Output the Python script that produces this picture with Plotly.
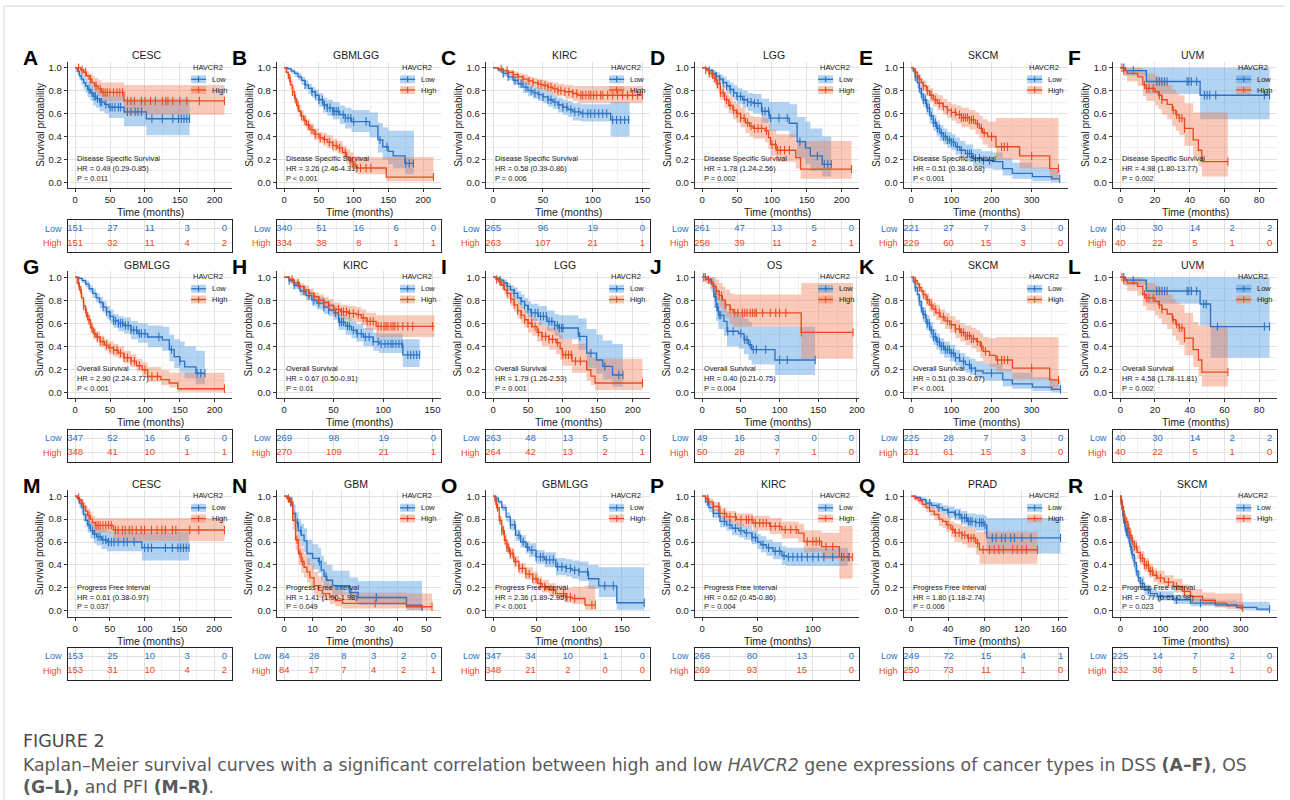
import plotly.graph_objects as go

# ---------------------------------------------------------------- data
PANEL_LETTERS = list("ABCDEFGHIJKLMNOPQR")
CANCER_TYPES = ["CESC", "GBMLGG", "KIRC", "LGG", "SKCM", "UVM",
                "GBMLGG", "KIRC", "LGG", "OS", "SKCM", "UVM",
                "CESC", "GBM", "GBMLGG", "KIRC", "PRAD", "SKCM"]
ENDPOINTS = ["Disease Specific Survival"] * 6 + ["Overall Survival"] * 6 + ["Progress Free Interval"] * 6
HR_TEXT = ["HR = 0.49 (0.29-0.85)", "HR = 3.26 (2.46-4.31)", "HR = 0.58 (0.39-0.86)",
           "HR = 1.78 (1.24-2.56)", "HR = 0.51 (0.38-0.68)", "HR = 4.98 (1.80-13.77)",
           "HR = 2.90 (2.24-3.77)", "HR = 0.67 (0.50-0.91)", "HR = 1.79 (1.26-2.53)",
           "HR = 0.40 (0.21-0.75)", "HR = 0.51 (0.39-0.67)", "HR = 4.58 (1.78-11.81)",
           "HR = 0.61 (0.38-0.97)", "HR = 1.41 (1.00-1.98)", "HR = 2.36 (1.89-2.95)",
           "HR = 0.62 (0.45-0.86)", "HR = 1.80 (1.18-2.74)", "HR = 0.77 (0.61-0.98)"]
PVAL_TEXT = ["P = 0.011", "P < 0.001", "P = 0.006", "P = 0.002", "P < 0.001", "P = 0.002",
             "P < 0.001", "P = 0.01", "P = 0.001", "P = 0.004", "P < 0.001", "P = 0.002",
             "P = 0.037", "P = 0.049", "P < 0.001", "P = 0.004", "P = 0.006", "P = 0.023"]
X_MAX = [214, 215, 150, 214, 372, 86, 214, 151, 214, 193, 372, 86, 215, 52.5, 174, 135, 162, 372]
X_TICKS = [[0, 50, 100, 150, 200], [0, 50, 100, 150, 200], [0, 50, 100, 150], [0, 50, 100, 150, 200],
           [0, 100, 200, 300], [0, 20, 40, 60, 80],
           [0, 50, 100, 150, 200], [0, 50, 100, 150], [0, 50, 100, 150, 200], [0, 50, 100, 150, 200],
           [0, 100, 200, 300], [0, 20, 40, 60, 80],
           [0, 50, 100, 150, 200], [0, 10, 20, 30, 40, 50], [0, 50, 100, 150], [0, 50, 100],
           [0, 40, 80, 120, 160], [0, 100, 200, 300]]
RISK_TIMES = [[0, 53.5, 107, 160.5, 214], [0, 53.75, 107.5, 161.25, 215], [0, 50, 100, 150],
              [0, 53.5, 107, 160.5, 214], [0, 93, 186, 279, 372], [0, 21.5, 43, 64.5, 86],
              [0, 53.5, 107, 160.5, 214], [0, 50.3, 100.7, 151], [0, 53.5, 107, 160.5, 214],
              [0, 48.25, 96.5, 144.75, 193], [0, 93, 186, 279, 372], [0, 21.5, 43, 64.5, 86],
              [0, 53.75, 107.5, 161.25, 215], [0, 10.5, 21, 31.5, 42, 52.5], [0, 43.5, 87, 130.5, 174],
              [0, 45, 90, 135], [0, 40.5, 81, 121.5, 162], [0, 93, 186, 279, 372]]
RISK_LOW = [[151, 27, 11, 3, 0], [340, 51, 16, 6, 0], [265, 96, 19, 0], [261, 47, 13, 5, 0],
            [221, 27, 7, 3, 0], [40, 30, 14, 2, 2],
            [347, 52, 16, 6, 0], [269, 98, 19, 0], [263, 48, 13, 5, 0], [49, 16, 3, 0, 0],
            [225, 28, 7, 3, 0], [40, 30, 14, 2, 2],
            [153, 25, 10, 3, 0], [84, 28, 8, 3, 2, 0], [347, 34, 10, 1, 0], [268, 80, 13, 0],
            [249, 72, 15, 4, 1], [225, 14, 7, 2, 0]]
RISK_HIGH = [[151, 32, 11, 4, 2], [334, 38, 8, 1, 1], [263, 107, 21, 1], [258, 39, 11, 2, 1],
             [229, 60, 15, 3, 0], [40, 22, 5, 1, 0],
             [348, 41, 10, 1, 1], [270, 109, 21, 1], [264, 42, 13, 2, 1], [50, 28, 7, 1, 0],
             [231, 61, 15, 3, 0], [40, 22, 5, 1, 0],
             [153, 31, 10, 4, 2], [84, 17, 7, 4, 2, 1], [348, 21, 2, 0, 0], [269, 93, 15, 0],
             [250, 73, 11, 1, 0], [232, 36, 5, 1, 0]]

# Kaplan-Meier step points: (time, survival, lower CI, upper CI); censor times separately
A_LOW = [(0, 1, 1, 1), (3, 0.97, 0.94, 1.0), (6, 0.93, 0.89, 0.97), (9, 0.90, 0.85, 0.95), (12, 0.87, 0.81, 0.93),
         (15, 0.84, 0.78, 0.90), (18, 0.81, 0.74, 0.88), (22, 0.78, 0.71, 0.86), (26, 0.75, 0.67, 0.83),
         (30, 0.73, 0.65, 0.81), (35, 0.70, 0.62, 0.79), (42, 0.68, 0.60, 0.77), (48, 0.655, 0.56, 0.75),
         (70, 0.615, 0.49, 0.73), (102, 0.555, 0.41, 0.73), (164, 0.555, 0.41, 0.73)]
A_LOW_CENS = [20, 24, 27, 29, 32, 36, 38, 44, 50, 53, 57, 62, 65, 75, 80, 86, 90, 95, 110, 125, 140, 148, 152, 156, 160, 164]
A_HIGH = [(0, 1, 1, 1), (8, 0.98, 0.96, 1.0), (12, 0.96, 0.93, 0.99), (16, 0.93, 0.89, 0.97), (20, 0.90, 0.85, 0.95),
          (24, 0.87, 0.82, 0.93), (28, 0.84, 0.78, 0.91), (33, 0.815, 0.75, 0.89), (38, 0.785, 0.71, 0.87),
          (70, 0.71, 0.59, 0.85), (214, 0.71, 0.59, 0.85)]
A_HIGH_CENS = [5, 10, 15, 22, 30, 36, 40, 43, 46, 50, 55, 60, 64, 68, 75, 80, 85, 95, 100, 108, 115, 125, 130, 133, 140, 150, 160, 178, 214]

B_LOW = [(0, 1, 1, 1), (5, 0.99, 0.98, 1.0), (10, 0.97, 0.95, 0.99), (15, 0.95, 0.92, 0.97), (20, 0.92, 0.89, 0.95),
         (25, 0.89, 0.85, 0.92), (30, 0.85, 0.81, 0.89), (35, 0.82, 0.77, 0.86), (40, 0.79, 0.74, 0.83),
         (45, 0.76, 0.71, 0.81), (50, 0.72, 0.66, 0.78), (56, 0.675, 0.61, 0.74), (62, 0.65, 0.58, 0.72),
         (70, 0.62, 0.55, 0.70), (80, 0.59, 0.51, 0.67), (88, 0.56, 0.47, 0.65), (97, 0.53, 0.44, 0.63),
         (123, 0.49, 0.39, 0.61), (135, 0.37, 0.26, 0.52), (142, 0.31, 0.20, 0.48), (150, 0.27, 0.16, 0.45),
         (157, 0.23, 0.12, 0.45), (174, 0.165, 0.07, 0.45), (187, 0.165, 0.07, 0.45)]
B_LOW_CENS = [30, 40, 45, 50, 55, 58, 62, 66, 70, 72, 75, 78, 85, 88, 92, 96, 100, 118, 138, 148, 175, 180, 186]
B_HIGH = [(0, 1, 1, 1), (3, 0.96, 0.94, 0.98), (6, 0.91, 0.88, 0.94), (9, 0.85, 0.81, 0.89), (12, 0.79, 0.75, 0.84),
          (15, 0.73, 0.68, 0.78), (18, 0.67, 0.62, 0.72), (21, 0.62, 0.57, 0.67), (24, 0.58, 0.53, 0.63),
          (28, 0.54, 0.49, 0.59), (32, 0.50, 0.45, 0.55), (37, 0.46, 0.41, 0.51), (43, 0.42, 0.37, 0.47),
          (50, 0.39, 0.34, 0.44), (56, 0.375, 0.32, 0.43), (62, 0.35, 0.30, 0.41), (70, 0.32, 0.27, 0.38),
          (77, 0.30, 0.25, 0.36), (84, 0.26, 0.21, 0.32), (90, 0.22, 0.16, 0.29), (95, 0.18, 0.12, 0.26),
          (100, 0.15, 0.10, 0.23), (105, 0.125, 0.07, 0.22), (147, 0.045, 0.01, 0.22), (215, 0.045, 0.01, 0.22)]
B_HIGH_CENS = [8, 12, 16, 20, 25, 30, 35, 40, 45, 52, 58, 65, 70, 75, 80, 88, 95, 98, 102, 110, 118, 125, 215]

C_LOW = [(0, 1, 1, 1), (5, 0.98, 0.96, 1.0), (10, 0.95, 0.92, 0.98), (15, 0.92, 0.89, 0.95), (20, 0.89, 0.85, 0.93),
         (25, 0.86, 0.82, 0.90), (30, 0.83, 0.78, 0.88), (35, 0.80, 0.75, 0.85), (40, 0.78, 0.73, 0.83),
         (45, 0.765, 0.71, 0.82), (50, 0.745, 0.69, 0.80), (55, 0.72, 0.66, 0.78), (60, 0.70, 0.64, 0.76),
         (65, 0.675, 0.61, 0.74), (70, 0.655, 0.59, 0.72), (75, 0.635, 0.57, 0.71), (80, 0.615, 0.54, 0.69),
         (88, 0.60, 0.53, 0.68), (118, 0.545, 0.40, 0.70), (137, 0.545, 0.40, 0.70)]
C_LOW_CENS = [10, 15, 22, 28, 33, 38, 42, 46, 50, 55, 58, 62, 66, 70, 74, 78, 82, 86, 90, 95, 98, 102, 106, 110, 114, 120, 124, 128, 132, 136]
C_HIGH = [(0, 1, 1, 1), (5, 0.99, 0.98, 1.0), (10, 0.975, 0.96, 0.99), (15, 0.96, 0.94, 0.98), (20, 0.94, 0.91, 0.97),
          (25, 0.92, 0.89, 0.95), (30, 0.90, 0.86, 0.94), (35, 0.885, 0.85, 0.92), (40, 0.87, 0.83, 0.91),
          (45, 0.855, 0.81, 0.90), (50, 0.845, 0.80, 0.89), (55, 0.83, 0.78, 0.88), (60, 0.815, 0.76, 0.87),
          (65, 0.80, 0.75, 0.86), (72, 0.79, 0.73, 0.85), (80, 0.775, 0.71, 0.84), (85, 0.76, 0.69, 0.84),
          (150, 0.76, 0.68, 0.84)]
C_HIGH_CENS = [8, 14, 20, 25, 30, 36, 40, 45, 48, 52, 55, 58, 62, 65, 68, 72, 76, 80, 84, 88, 90, 93, 96, 98, 101, 104, 108, 110, 115, 120, 125, 130, 135, 140, 145, 150]

D_LOW = [(0, 1, 1, 1), (5, 0.99, 0.98, 1.0), (10, 0.975, 0.95, 0.99), (15, 0.95, 0.92, 0.98), (20, 0.925, 0.89, 0.96),
         (25, 0.90, 0.86, 0.94), (30, 0.87, 0.82, 0.92), (35, 0.84, 0.79, 0.89), (40, 0.81, 0.75, 0.87),
         (45, 0.78, 0.72, 0.85), (50, 0.75, 0.68, 0.82), (58, 0.72, 0.65, 0.80), (65, 0.70, 0.62, 0.78),
         (73, 0.69, 0.60, 0.77), (85, 0.62, 0.52, 0.73), (96, 0.56, 0.45, 0.70), (125, 0.515, 0.39, 0.68),
         (136, 0.355, 0.21, 0.57), (148, 0.30, 0.16, 0.53), (155, 0.23, 0.10, 0.47), (172, 0.157, 0.05, 0.40),
         (185, 0.157, 0.05, 0.40)]
D_LOW_CENS = [10, 15, 20, 25, 30, 35, 40, 45, 50, 55, 60, 65, 70, 75, 80, 86, 90, 95, 98, 110, 122, 140, 165, 175, 180, 185]
D_HIGH = [(0, 1, 1, 1), (5, 0.98, 0.96, 1.0), (10, 0.95, 0.92, 0.98), (15, 0.91, 0.87, 0.95), (20, 0.86, 0.81, 0.91),
          (26, 0.78, 0.72, 0.84), (32, 0.72, 0.65, 0.79), (38, 0.67, 0.60, 0.75), (44, 0.63, 0.55, 0.71),
          (49, 0.60, 0.52, 0.68), (55, 0.56, 0.48, 0.65), (62, 0.52, 0.43, 0.61), (68, 0.49, 0.40, 0.58),
          (73, 0.47, 0.38, 0.57), (90, 0.45, 0.35, 0.56), (95, 0.39, 0.29, 0.51), (98, 0.33, 0.23, 0.46),
          (106, 0.28, 0.18, 0.42), (134, 0.215, 0.12, 0.37), (141, 0.115, 0.03, 0.36), (214, 0.115, 0.03, 0.36)]
D_HIGH_CENS = [5, 10, 14, 18, 22, 26, 30, 35, 40, 45, 50, 55, 60, 65, 70, 75, 80, 85, 92, 100, 105, 108, 112, 118, 125, 214]

E_LOW = [(0, 1, 1, 1), (5, 0.97, 0.95, 0.99), (10, 0.92, 0.88, 0.96), (15, 0.87, 0.82, 0.92), (20, 0.82, 0.77, 0.88),
         (25, 0.77, 0.71, 0.83), (30, 0.72, 0.66, 0.78), (38, 0.65, 0.59, 0.72), (46, 0.58, 0.51, 0.65),
         (55, 0.52, 0.45, 0.59), (63, 0.47, 0.40, 0.54), (71, 0.43, 0.36, 0.50), (80, 0.40, 0.33, 0.47),
         (90, 0.37, 0.30, 0.44), (100, 0.35, 0.28, 0.42), (110, 0.31, 0.24, 0.39), (121, 0.28, 0.21, 0.36),
         (135, 0.25, 0.18, 0.33), (154, 0.21, 0.14, 0.29), (175, 0.19, 0.12, 0.27), (203, 0.18, 0.11, 0.26),
         (228, 0.12, 0.06, 0.21), (252, 0.078, 0.03, 0.17), (302, 0.05, 0.01, 0.13), (350, 0.03, 0.0, 0.11),
         (370, 0.03, 0.0, 0.11)]
E_LOW_CENS = [10, 20, 25, 30, 35, 40, 45, 50, 55, 60, 65, 70, 75, 80, 85, 90, 95, 100, 105, 115, 125, 140, 145, 150, 160, 170, 180, 195, 370]
E_HIGH = [(0, 1, 1, 1), (5, 0.99, 0.98, 1.0), (10, 0.96, 0.94, 0.98), (15, 0.93, 0.90, 0.96), (20, 0.90, 0.86, 0.94),
          (25, 0.87, 0.83, 0.91), (30, 0.84, 0.79, 0.89), (38, 0.80, 0.75, 0.85), (46, 0.76, 0.70, 0.82),
          (55, 0.72, 0.66, 0.78), (65, 0.69, 0.63, 0.76), (79, 0.66, 0.59, 0.73), (90, 0.63, 0.56, 0.70),
          (100, 0.61, 0.54, 0.68), (112, 0.59, 0.51, 0.67), (125, 0.565, 0.48, 0.65), (145, 0.545, 0.46, 0.63),
          (160, 0.51, 0.42, 0.61), (170, 0.47, 0.38, 0.58), (178, 0.43, 0.33, 0.55), (190, 0.40, 0.30, 0.53),
          (211, 0.31, 0.20, 0.56), (270, 0.23, 0.12, 0.56), (345, 0.12, 0.03, 0.56), (367, 0.12, 0.03, 0.56)]
E_HIGH_CENS = [10, 20, 30, 40, 50, 60, 70, 80, 90, 100, 110, 120, 125, 130, 135, 140, 145, 150, 155, 165, 175, 182, 200, 225, 232, 240, 300, 367]

F_LOW = [(0, 1, 1, 1), (3, 0.975, 0.93, 1.0), (15, 0.88, 0.77, 1.0), (46, 0.76, 0.55, 1.0), (86, 0.76, 0.55, 1.0)]
F_LOW_CENS = [2, 7.5, 21, 22.5, 24, 25.5, 27, 38.5, 39.5, 41, 44, 48.5, 50, 51.5, 55, 83, 86]
F_HIGH = [(0, 1, 1, 1), (2, 0.975, 0.93, 1.0), (4, 0.95, 0.88, 1.0), (10, 0.92, 0.84, 1.0), (13, 0.85, 0.75, 0.97),
          (15, 0.82, 0.71, 0.95), (20, 0.79, 0.67, 0.93), (22, 0.76, 0.64, 0.91), (24, 0.72, 0.59, 0.88),
          (27, 0.68, 0.55, 0.85), (30, 0.63, 0.49, 0.81), (32, 0.59, 0.45, 0.78), (34, 0.56, 0.41, 0.76),
          (37, 0.47, 0.32, 0.69), (42, 0.37, 0.22, 0.61), (45, 0.28, 0.14, 0.61), (47, 0.18, 0.05, 0.61),
          (62, 0.18, 0.05, 0.61)]
F_HIGH_CENS = [1, 2, 14, 15, 16.5, 19, 22.5, 24, 30.5, 32.5, 34, 35.5, 37, 62]

G_LOW = [(0, 1, 1, 1), (5, 0.99, 0.98, 1.0), (10, 0.97, 0.95, 0.99), (15, 0.94, 0.91, 0.97), (20, 0.90, 0.87, 0.93),
         (25, 0.86, 0.82, 0.90), (30, 0.82, 0.78, 0.86), (35, 0.78, 0.73, 0.83), (40, 0.74, 0.69, 0.79),
         (45, 0.70, 0.64, 0.75), (50, 0.66, 0.60, 0.72), (55, 0.62, 0.56, 0.68), (62, 0.60, 0.53, 0.66),
         (70, 0.58, 0.51, 0.65), (80, 0.54, 0.46, 0.62), (90, 0.51, 0.43, 0.60), (104, 0.48, 0.39, 0.58),
         (125, 0.455, 0.36, 0.57), (135, 0.37, 0.27, 0.50), (142, 0.31, 0.21, 0.46), (150, 0.27, 0.17, 0.44),
         (157, 0.22, 0.12, 0.40), (173, 0.165, 0.07, 0.36), (186, 0.165, 0.07, 0.36)]
G_LOW_CENS = [40, 45, 50, 55, 58, 62, 65, 68, 72, 76, 80, 84, 88, 92, 95, 100, 120, 138, 150, 175, 180, 186]
G_HIGH = [(0, 1, 1, 1), (3, 0.95, 0.93, 0.97), (6, 0.89, 0.86, 0.92), (9, 0.82, 0.78, 0.86), (12, 0.75, 0.71, 0.80),
          (15, 0.69, 0.64, 0.74), (18, 0.63, 0.58, 0.68), (22, 0.56, 0.51, 0.61), (26, 0.51, 0.46, 0.56),
          (30, 0.48, 0.43, 0.53), (36, 0.44, 0.39, 0.49), (42, 0.41, 0.36, 0.46), (48, 0.385, 0.33, 0.44),
          (55, 0.365, 0.31, 0.42), (62, 0.34, 0.29, 0.40), (70, 0.30, 0.25, 0.36), (80, 0.27, 0.22, 0.33),
          (88, 0.23, 0.18, 0.29), (96, 0.195, 0.14, 0.26), (104, 0.137, 0.09, 0.22), (123, 0.11, 0.06, 0.19),
          (135, 0.08, 0.04, 0.17), (147, 0.03, 0.005, 0.17), (214, 0.03, 0.005, 0.17)]
G_HIGH_CENS = [5, 8, 12, 16, 20, 24, 28, 32, 36, 40, 45, 50, 55, 60, 65, 70, 75, 80, 85, 92, 100, 110, 118, 214]

H_LOW = [(0, 1, 1, 1), (5, 0.97, 0.95, 0.99), (10, 0.93, 0.90, 0.96), (16, 0.88, 0.84, 0.92), (22, 0.84, 0.80, 0.88),
         (28, 0.80, 0.75, 0.85), (33, 0.775, 0.72, 0.83), (40, 0.74, 0.68, 0.80), (45, 0.715, 0.66, 0.77),
         (50, 0.69, 0.63, 0.75), (55, 0.61, 0.54, 0.68), (62, 0.575, 0.50, 0.65), (68, 0.54, 0.47, 0.62),
         (73, 0.51, 0.44, 0.59), (80, 0.48, 0.40, 0.56), (90, 0.44, 0.36, 0.52), (96, 0.42, 0.34, 0.51),
         (120, 0.325, 0.22, 0.46), (137, 0.325, 0.22, 0.46)]
H_LOW_CENS = [5, 10, 15, 20, 25, 30, 35, 40, 45, 52, 56, 58, 60, 64, 66, 70, 74, 78, 82, 86, 90, 95, 98, 102, 105, 108, 110, 113, 116, 119, 125, 128, 131, 134, 137]
H_HIGH = [(0, 1, 1, 1), (5, 0.98, 0.96, 1.0), (10, 0.95, 0.92, 0.98), (15, 0.92, 0.89, 0.95), (20, 0.89, 0.85, 0.93),
          (25, 0.86, 0.82, 0.90), (30, 0.83, 0.79, 0.87), (35, 0.80, 0.76, 0.85), (40, 0.78, 0.73, 0.83),
          (45, 0.755, 0.70, 0.81), (50, 0.72, 0.66, 0.78), (57, 0.70, 0.64, 0.76), (65, 0.685, 0.62, 0.75),
          (73, 0.675, 0.61, 0.74), (78, 0.645, 0.58, 0.72), (83, 0.616, 0.54, 0.69), (93, 0.573, 0.48, 0.67),
          (152, 0.573, 0.48, 0.67)]
H_HIGH_CENS = [8, 14, 20, 25, 30, 35, 40, 45, 50, 55, 58, 60, 63, 66, 70, 75, 80, 84, 87, 90, 95, 98, 101, 103, 105, 108, 110, 112, 115, 120, 125, 130, 150]

I_LOW = [(0, 1, 1, 1), (5, 0.99, 0.98, 1.0), (10, 0.975, 0.95, 0.99), (15, 0.95, 0.92, 0.98), (20, 0.92, 0.88, 0.95),
         (25, 0.89, 0.85, 0.93), (30, 0.86, 0.81, 0.91), (35, 0.82, 0.77, 0.88), (40, 0.79, 0.73, 0.85),
         (45, 0.755, 0.69, 0.82), (50, 0.72, 0.65, 0.79), (54, 0.69, 0.62, 0.77), (65, 0.66, 0.58, 0.75),
         (77, 0.615, 0.53, 0.71), (88, 0.58, 0.49, 0.68), (94, 0.558, 0.46, 0.67), (122, 0.485, 0.37, 0.64),
         (134, 0.34, 0.21, 0.55), (148, 0.28, 0.16, 0.50), (157, 0.224, 0.11, 0.45), (171, 0.15, 0.05, 0.42),
         (186, 0.15, 0.05, 0.42)]
I_LOW_CENS = [10, 20, 30, 40, 45, 50, 55, 60, 64, 68, 72, 76, 80, 84, 88, 92, 95, 98, 100, 124, 140, 160, 180, 186]
I_HIGH = [(0, 1, 1, 1), (4, 0.98, 0.96, 1.0), (8, 0.96, 0.93, 0.99), (12, 0.93, 0.89, 0.97), (16, 0.89, 0.85, 0.94),
          (20, 0.86, 0.81, 0.91), (25, 0.81, 0.75, 0.87), (30, 0.76, 0.70, 0.82), (35, 0.71, 0.64, 0.78),
          (40, 0.67, 0.60, 0.74), (45, 0.63, 0.56, 0.71), (50, 0.60, 0.52, 0.68), (56, 0.57, 0.49, 0.65),
          (63, 0.52, 0.44, 0.61), (70, 0.485, 0.40, 0.58), (80, 0.46, 0.37, 0.56), (90, 0.43, 0.33, 0.54),
          (96, 0.38, 0.28, 0.50), (99, 0.326, 0.23, 0.46), (113, 0.27, 0.17, 0.42), (134, 0.195, 0.10, 0.36),
          (140, 0.14, 0.06, 0.30), (146, 0.08, 0.02, 0.29), (214, 0.08, 0.02, 0.29)]
I_HIGH_CENS = [5, 10, 15, 20, 25, 30, 35, 40, 45, 50, 55, 60, 65, 70, 75, 80, 85, 92, 100, 104, 108, 112, 118, 125, 214]

J_LOW = [(0, 1, 1, 1), (8, 0.98, 0.94, 1.0), (12, 0.94, 0.87, 1.0), (15, 0.83, 0.73, 0.95), (18, 0.74, 0.62, 0.88),
         (21, 0.67, 0.55, 0.82), (28, 0.616, 0.49, 0.78), (32, 0.53, 0.40, 0.70), (47, 0.51, 0.38, 0.68),
         (54, 0.456, 0.33, 0.64), (60, 0.413, 0.28, 0.61), (64, 0.37, 0.24, 0.57), (94, 0.28, 0.15, 0.57),
         (146, 0.28, 0.15, 0.57)]
J_LOW_CENS = [2, 17, 19, 20, 22, 24, 33, 40, 50, 55, 58, 62, 66, 70, 82, 100, 110, 146]
J_HIGH = [(0, 1, 1, 1), (5, 0.98, 0.94, 1.0), (10, 0.96, 0.90, 1.0), (14, 0.92, 0.84, 1.0), (18, 0.88, 0.79, 0.98),
          (22, 0.84, 0.74, 0.95), (26, 0.80, 0.69, 0.92), (30, 0.76, 0.65, 0.89), (36, 0.72, 0.60, 0.86),
          (40, 0.69, 0.57, 0.85), (128, 0.52, 0.29, 0.95), (195, 0.52, 0.29, 0.95)]
J_HIGH_CENS = [4, 8, 18, 22, 25, 30, 36, 42, 46, 52, 55, 58, 62, 65, 68, 70, 78, 88, 95, 100, 108, 128, 195]

K_LOW = [(0, 1, 1, 1), (5, 0.96, 0.94, 0.98), (10, 0.91, 0.88, 0.94), (15, 0.85, 0.81, 0.89), (20, 0.79, 0.74, 0.84),
         (25, 0.73, 0.68, 0.79), (29, 0.675, 0.61, 0.74), (37, 0.60, 0.54, 0.67), (46, 0.54, 0.47, 0.61),
         (55, 0.48, 0.41, 0.55), (63, 0.44, 0.37, 0.51), (71, 0.40, 0.33, 0.47), (82, 0.37, 0.30, 0.44),
         (96, 0.34, 0.27, 0.41), (110, 0.30, 0.23, 0.37), (121, 0.27, 0.20, 0.34), (135, 0.24, 0.17, 0.31),
         (146, 0.21, 0.15, 0.29), (160, 0.185, 0.12, 0.27), (179, 0.166, 0.10, 0.25), (228, 0.107, 0.05, 0.20),
         (252, 0.073, 0.03, 0.17), (302, 0.044, 0.01, 0.13), (350, 0.025, 0.0, 0.11), (372, 0.025, 0.0, 0.11)]
K_LOW_CENS = [10, 20, 25, 30, 35, 40, 45, 50, 55, 60, 65, 70, 75, 80, 85, 90, 95, 100, 105, 110, 120, 130, 145, 150, 160, 200, 372]
K_HIGH = [(0, 1, 1, 1), (5, 0.99, 0.98, 1.0), (10, 0.97, 0.95, 0.99), (15, 0.94, 0.91, 0.97), (20, 0.91, 0.87, 0.95),
          (25, 0.88, 0.84, 0.92), (30, 0.85, 0.80, 0.89), (37, 0.805, 0.75, 0.86), (45, 0.76, 0.70, 0.82),
          (54, 0.72, 0.66, 0.78), (62, 0.69, 0.63, 0.76), (72, 0.655, 0.59, 0.72), (84, 0.62, 0.55, 0.69),
          (96, 0.587, 0.52, 0.66), (110, 0.55, 0.47, 0.63), (122, 0.52, 0.44, 0.60), (135, 0.49, 0.41, 0.58),
          (150, 0.465, 0.38, 0.56), (162, 0.44, 0.35, 0.54), (172, 0.40, 0.30, 0.51), (179, 0.355, 0.25, 0.48),
          (195, 0.32, 0.22, 0.47), (211, 0.28, 0.18, 0.48), (252, 0.21, 0.11, 0.48), (345, 0.107, 0.02, 0.48),
          (367, 0.107, 0.02, 0.48)]
K_HIGH_CENS = [10, 20, 30, 40, 50, 60, 70, 80, 90, 100, 110, 120, 125, 130, 135, 140, 145, 150, 155, 165, 175, 185, 215, 225, 232, 240, 300, 367]

L_LOW = [(0, 1, 1, 1), (3, 0.975, 0.93, 1.0), (15, 0.88, 0.77, 1.0), (46, 0.767, 0.58, 1.0), (52, 0.57, 0.30, 1.0),
         (86, 0.57, 0.30, 1.0)]
L_LOW_CENS = [2, 7.5, 21, 22.5, 24, 25.5, 27, 38.5, 39.5, 41, 44, 48, 49.5, 56, 83, 86]
L_HIGH = [(0, 1, 1, 1), (2, 0.975, 0.93, 1.0), (4, 0.95, 0.88, 1.0), (10, 0.92, 0.84, 1.0), (13, 0.85, 0.75, 0.97),
          (15, 0.82, 0.71, 0.95), (20, 0.79, 0.67, 0.93), (22, 0.76, 0.64, 0.91), (24, 0.72, 0.59, 0.88),
          (27, 0.68, 0.55, 0.85), (30, 0.63, 0.49, 0.81), (32, 0.59, 0.45, 0.78), (34, 0.56, 0.41, 0.76),
          (37, 0.47, 0.32, 0.69), (42, 0.37, 0.22, 0.61), (45, 0.28, 0.14, 0.58), (47, 0.175, 0.05, 0.58),
          (62, 0.175, 0.05, 0.58)]
L_HIGH_CENS = [1, 2, 14, 15, 16.5, 19, 22.5, 24, 30.5, 32.5, 34, 35.5, 37, 62]

M_LOW = [(0, 1, 1, 1), (3, 0.98, 0.96, 1.0), (6, 0.94, 0.91, 0.97), (9, 0.90, 0.85, 0.94), (12, 0.84, 0.78, 0.89),
         (15, 0.79, 0.73, 0.85), (18, 0.75, 0.68, 0.82), (22, 0.70, 0.63, 0.78), (27, 0.67, 0.59, 0.75),
         (31, 0.645, 0.57, 0.73), (38, 0.62, 0.54, 0.71), (46, 0.60, 0.52, 0.69), (96, 0.55, 0.44, 0.69),
         (164, 0.55, 0.44, 0.69)]
M_LOW_CENS = [20, 25, 28, 33, 36, 40, 44, 48, 52, 56, 62, 70, 75, 85, 100, 105, 110, 130, 140, 148, 152, 156, 160, 164]
M_HIGH = [(0, 1, 1, 1), (3, 0.99, 0.98, 1.0), (6, 0.97, 0.95, 0.99), (9, 0.94, 0.91, 0.97), (12, 0.91, 0.87, 0.95),
          (15, 0.87, 0.82, 0.92), (18, 0.83, 0.78, 0.89), (22, 0.80, 0.74, 0.86), (25, 0.77, 0.71, 0.83),
          (29, 0.745, 0.68, 0.81), (55, 0.705, 0.61, 0.81), (215, 0.705, 0.61, 0.81)]
M_HIGH_CENS = [5, 10, 20, 30, 33, 36, 40, 44, 48, 52, 58, 62, 68, 72, 78, 82, 88, 95, 100, 110, 118, 125, 130, 140, 145, 165, 178, 215]

N_LOW = [(0, 1, 1, 1), (1, 0.99, 0.97, 1.0), (2, 0.95, 0.91, 0.99), (3, 0.85, 0.78, 0.93), (4, 0.77, 0.69, 0.86),
         (5, 0.70, 0.61, 0.80), (6, 0.66, 0.56, 0.76), (7, 0.61, 0.51, 0.72), (8, 0.50, 0.40, 0.62),
         (10, 0.457, 0.36, 0.58), (12, 0.43, 0.33, 0.55), (13, 0.355, 0.26, 0.48), (14, 0.30, 0.21, 0.43),
         (15, 0.267, 0.18, 0.40), (17, 0.22, 0.14, 0.35), (23, 0.16, 0.09, 0.29), (26, 0.116, 0.05, 0.26),
         (43, 0.05, 0.01, 0.26), (48.5, 0.0, 0.0, 0.26)]
N_LOW_CENS = [2.3, 4.7, 5.9, 12.4, 14.7, 23.5, 32.4]
N_HIGH = [(0, 1, 1, 1), (1, 0.98, 0.95, 1.0), (2, 0.95, 0.91, 0.99), (3, 0.79, 0.71, 0.88), (4, 0.62, 0.53, 0.73),
          (5, 0.50, 0.40, 0.62), (6, 0.43, 0.33, 0.55), (7, 0.38, 0.29, 0.50), (8, 0.34, 0.25, 0.46),
          (9, 0.29, 0.20, 0.41), (10.5, 0.22, 0.14, 0.34), (12, 0.18, 0.11, 0.30), (13.5, 0.15, 0.09, 0.26),
          (16, 0.12, 0.06, 0.23), (18, 0.09, 0.04, 0.19), (20.5, 0.065, 0.02, 0.16), (43, 0.035, 0.005, 0.15),
          (52, 0.035, 0.005, 0.15)]
N_HIGH_CENS = [1.5, 2.5, 4.5, 5.5, 6.5, 32, 52]

O_LOW = [(0, 1, 1, 1), (3, 0.98, 0.96, 1.0), (6, 0.95, 0.93, 0.97), (10, 0.90, 0.87, 0.93), (15, 0.82, 0.78, 0.86),
         (20, 0.75, 0.70, 0.80), (26, 0.66, 0.61, 0.71), (32, 0.60, 0.55, 0.66), (38, 0.555, 0.50, 0.61),
         (42, 0.53, 0.47, 0.59), (50, 0.47, 0.41, 0.53), (60, 0.445, 0.38, 0.51), (73, 0.384, 0.31, 0.46),
         (85, 0.37, 0.30, 0.45), (92, 0.355, 0.28, 0.44), (100, 0.34, 0.26, 0.43), (111, 0.28, 0.19, 0.40),
         (123, 0.218, 0.12, 0.38), (144, 0.07, 0.01, 0.38), (176, 0.07, 0.01, 0.38)]
O_LOW_CENS = [20, 25, 30, 35, 40, 45, 50, 55, 58, 62, 66, 70, 75, 80, 85, 90, 95, 100, 110, 130, 140, 176]
O_HIGH = [(0, 1, 1, 1), (2, 0.96, 0.94, 0.98), (4, 0.90, 0.87, 0.93), (7, 0.79, 0.75, 0.83), (10, 0.70, 0.65, 0.75),
          (13, 0.616, 0.57, 0.67), (16, 0.55, 0.50, 0.60), (19, 0.50, 0.45, 0.55), (24, 0.43, 0.38, 0.48),
          (30, 0.37, 0.32, 0.42), (38, 0.32, 0.27, 0.38), (46, 0.28, 0.23, 0.34), (52, 0.24, 0.19, 0.30),
          (57, 0.21, 0.16, 0.27), (65, 0.18, 0.13, 0.24), (73, 0.15, 0.10, 0.22), (85, 0.12, 0.07, 0.20),
          (92, 0.107, 0.06, 0.21), (107, 0.05, 0.01, 0.22), (119, 0.05, 0.01, 0.22)]
O_HIGH_CENS = [3, 5, 8, 10, 12, 14, 16, 18, 20, 23, 26, 30, 34, 38, 42, 46, 50, 55, 60, 70, 82, 86, 90, 95, 115, 119]

P_LOW = [(0, 1, 1, 1), (3, 0.95, 0.92, 0.98), (6, 0.90, 0.86, 0.94), (10, 0.85, 0.81, 0.89), (16, 0.78, 0.73, 0.83),
         (22, 0.75, 0.70, 0.80), (27, 0.72, 0.66, 0.78), (33, 0.70, 0.64, 0.76), (38, 0.68, 0.62, 0.74),
         (45, 0.64, 0.58, 0.70), (50, 0.60, 0.54, 0.67), (53, 0.576, 0.51, 0.65), (58, 0.55, 0.48, 0.62),
         (64, 0.52, 0.45, 0.60), (72, 0.48, 0.40, 0.56), (76, 0.47, 0.39, 0.55), (132, 0.47, 0.39, 0.55)]
P_LOW_CENS = [5, 10, 15, 20, 25, 30, 35, 40, 45, 48, 55, 60, 66, 70, 74, 78, 82, 86, 90, 95, 100, 105, 110, 118, 126, 132]
P_HIGH = [(0, 1, 1, 1), (3, 0.98, 0.96, 1.0), (6, 0.95, 0.92, 0.98), (10, 0.91, 0.87, 0.95), (16, 0.85, 0.80, 0.90),
          (22, 0.82, 0.77, 0.87), (31, 0.795, 0.74, 0.85), (46, 0.766, 0.70, 0.83), (61, 0.737, 0.67, 0.81),
          (72, 0.708, 0.63, 0.78), (87, 0.678, 0.60, 0.76), (92, 0.605, 0.51, 0.70), (108, 0.56, 0.45, 0.68),
          (124, 0.468, 0.28, 0.74), (136, 0.468, 0.28, 0.74)]
P_HIGH_CENS = [5, 10, 15, 20, 25, 30, 35, 40, 42, 45, 48, 52, 55, 58, 62, 66, 70, 75, 80, 85, 95, 100, 103, 106, 112, 118, 128, 133, 136]

Q_LOW = [(0, 1, 1, 1), (5, 0.99, 0.98, 1.0), (10, 0.97, 0.95, 0.99), (16, 0.94, 0.91, 0.97), (22, 0.92, 0.89, 0.95),
         (28, 0.90, 0.86, 0.94), (34, 0.88, 0.84, 0.92), (40, 0.86, 0.81, 0.91), (47, 0.84, 0.79, 0.89),
         (54, 0.81, 0.75, 0.87), (61, 0.78, 0.72, 0.85), (70, 0.77, 0.70, 0.84), (79, 0.75, 0.67, 0.83),
         (82, 0.636, 0.50, 0.81), (162, 0.636, 0.50, 0.81)]
Q_LOW_CENS = [20, 30, 40, 48, 52, 55, 58, 60, 62, 64, 66, 70, 74, 76, 78, 80, 88, 92, 98, 102, 108, 112, 120, 130, 162]
Q_HIGH = [(0, 1, 1, 1), (4, 0.98, 0.96, 1.0), (8, 0.96, 0.93, 0.99), (12, 0.93, 0.90, 0.96), (16, 0.90, 0.86, 0.94),
          (20, 0.87, 0.83, 0.91), (25, 0.84, 0.79, 0.89), (30, 0.80, 0.74, 0.86), (34, 0.78, 0.72, 0.84),
          (38, 0.75, 0.69, 0.82), (43, 0.71, 0.64, 0.78), (47, 0.68, 0.60, 0.76), (55, 0.66, 0.58, 0.74),
          (61, 0.635, 0.55, 0.72), (70, 0.59, 0.49, 0.69), (74, 0.533, 0.41, 0.69), (137, 0.533, 0.41, 0.69)]
Q_HIGH_CENS = [40, 45, 48, 52, 55, 58, 62, 65, 68, 72, 78, 85, 90, 95, 100, 110, 115, 120, 125, 137]

R_LOW = [(0, 1, 1, 1), (2, 0.97, 0.95, 0.99), (4, 0.92, 0.89, 0.95), (6, 0.86, 0.82, 0.90), (8, 0.80, 0.76, 0.85),
         (11, 0.74, 0.69, 0.79), (14, 0.69, 0.64, 0.74), (19, 0.636, 0.58, 0.69), (24, 0.56, 0.50, 0.62),
         (29, 0.49, 0.43, 0.55), (35, 0.42, 0.36, 0.48), (40, 0.345, 0.29, 0.40), (45, 0.29, 0.24, 0.35),
         (50, 0.24, 0.19, 0.30), (60, 0.18, 0.14, 0.23), (75, 0.15, 0.11, 0.20), (92, 0.125, 0.09, 0.17),
         (133, 0.096, 0.06, 0.14), (175, 0.067, 0.04, 0.11), (237, 0.052, 0.03, 0.09), (290, 0.03, 0.01, 0.08),
         (340, 0.015, 0.0, 0.08), (372, 0.015, 0.0, 0.08)]
R_LOW_CENS = [2, 4, 6, 8, 10, 12, 15, 18, 22, 26, 30, 35, 40, 45, 50, 55, 70, 100, 140, 200, 372]
R_HIGH = [(0, 1, 1, 1), (2, 0.96, 0.94, 0.98), (5, 0.91, 0.88, 0.94), (8, 0.84, 0.80, 0.88), (12, 0.78, 0.74, 0.82),
          (19, 0.72, 0.67, 0.77), (24, 0.66, 0.61, 0.71), (29, 0.606, 0.55, 0.66), (35, 0.56, 0.50, 0.62),
          (42, 0.51, 0.45, 0.57), (50, 0.46, 0.40, 0.52), (60, 0.40, 0.34, 0.46), (71, 0.345, 0.29, 0.41),
          (82, 0.31, 0.25, 0.37), (92, 0.285, 0.23, 0.35), (110, 0.25, 0.20, 0.31), (133, 0.213, 0.16, 0.28),
          (155, 0.17, 0.12, 0.23), (175, 0.125, 0.08, 0.19), (205, 0.09, 0.05, 0.16), (237, 0.067, 0.03, 0.15),
          (265, 0.045, 0.015, 0.15), (300, 0.023, 0.005, 0.15), (305, 0.023, 0.005, 0.15)]
R_HIGH_CENS = [2, 5, 10, 15, 20, 25, 30, 35, 40, 50, 55, 60, 65, 70, 75, 80, 90, 100, 120, 140, 160, 305]

CURVES_LOW = [A_LOW, B_LOW, C_LOW, D_LOW, E_LOW, F_LOW, G_LOW, H_LOW, I_LOW,
              J_LOW, K_LOW, L_LOW, M_LOW, N_LOW, O_LOW, P_LOW, Q_LOW, R_LOW]
CENS_LOW = [A_LOW_CENS, B_LOW_CENS, C_LOW_CENS, D_LOW_CENS, E_LOW_CENS, F_LOW_CENS, G_LOW_CENS, H_LOW_CENS,
            I_LOW_CENS, J_LOW_CENS, K_LOW_CENS, L_LOW_CENS, M_LOW_CENS, N_LOW_CENS, O_LOW_CENS, P_LOW_CENS,
            Q_LOW_CENS, R_LOW_CENS]
CURVES_HIGH = [A_HIGH, B_HIGH, C_HIGH, D_HIGH, E_HIGH, F_HIGH, G_HIGH, H_HIGH, I_HIGH,
               J_HIGH, K_HIGH, L_HIGH, M_HIGH, N_HIGH, O_HIGH, P_HIGH, Q_HIGH, R_HIGH]
CENS_HIGH = [A_HIGH_CENS, B_HIGH_CENS, C_HIGH_CENS, D_HIGH_CENS, E_HIGH_CENS, F_HIGH_CENS, G_HIGH_CENS,
             H_HIGH_CENS, I_HIGH_CENS, J_HIGH_CENS, K_HIGH_CENS, L_HIGH_CENS, M_HIGH_CENS, N_HIGH_CENS,
             O_HIGH_CENS, P_HIGH_CENS, Q_HIGH_CENS, R_HIGH_CENS]

GROUP_NAMES = ["Low", "High"]
LEGEND_TITLE = "HAVCR2"
X_TITLE = "Time (months)"
Y_TITLE = "Survival probability"
CAPTION_TITLE = "FIGURE 2"
CAPTION_TEXT = ("Kaplan\u2013Meier survival curves with a significant correlation between high and low "
                "<i>HAVCR2</i> gene expressions of cancer types in DSS <b>(A\u2013F)</b>, OS<br>"
                "<b>(G\u2013L),</b> and PFI <b>(M\u2013R)</b>.")

# ---------------------------------------------------------------- style / geometry
FIG_W, FIG_H = 1290, 800
FONT = "Liberation Sans, Arial, sans-serif"
CAP_FONT = "DejaVu Sans, Open Sans, sans-serif"
LOW_COLOR = "#2B72C4"
HIGH_COLOR = "#EB4A1E"
LOW_FILL = "rgba(72,150,222,0.42)"
HIGH_FILL = "rgba(240,122,82,0.40)"
GRID_MAJOR = "#E2E2E2"
GRID_MINOR = "#F0F0F0"
AXIS_COLOR = "#333333"
TEXT_COLOR = "#1A1A1A"

COL_X = [68 + 210 * c for c in range(6)]
PLOT_W = 165
ROW_Y1 = [67.7, 277.2, 496.2]   # pixel row of survival = 1.0
ROW_Y0 = [182.3, 392.2, 610.8]  # pixel row of survival = 0.0
TABLE_TOP = [220.0, 429.5, 647.5]
TABLE_H = 32.0


def pxx(x):
    return x / FIG_W


def pxy(y):
    return 1 - y / FIG_H


def step_path(ts, vs):
    xs, ys = [ts[0]], [vs[0]]
    for i in range(1, len(ts)):
        xs += [ts[i], ts[i]]
        ys += [vs[i - 1], vs[i]]
    return xs, ys


def surv_at(curve, t):
    val = curve[0][1]
    for row in curve:
        if row[0] <= t:
            val = row[1]
        else:
            break
    return val


def minor_vals(ticks, lo, hi):
    step = ticks[1] - ticks[0]
    cand = [ticks[0] - step / 2] + [t + step / 2 for t in ticks]
    return [v for v in cand if lo < v < hi]


fig = go.Figure()
layout_axes = {}
annotations = []
shapes = []

for k in range(18):
    r, c = divmod(k, 6)
    left = COL_X[c]
    right = left + PLOT_W
    y1, y0 = ROW_Y1[r], ROW_Y0[r]
    unit = y0 - y1
    top_px = y1 - 0.05 * unit
    bot_px = y0 + 0.05 * unit
    m, t = 2 * k + 1, 2 * k + 2
    mx = "x" if m == 1 else f"x{m}"
    my = "y" if m == 1 else f"y{m}"
    tx, ty = f"x{t}", f"y{t}"
    xmax = X_MAX[k]
    xr = [-0.05 * xmax, 1.05 * xmax]
    ticks = X_TICKS[k]
    xminor = minor_vals(ticks, xr[0], xr[1])

    groups = [(CURVES_LOW[k], CENS_LOW[k], LOW_COLOR, LOW_FILL),
              (CURVES_HIGH[k], CENS_HIGH[k], HIGH_COLOR, HIGH_FILL)]
    # confidence bands
    for curve, cens, col, fill in groups:
        ts = [p[0] for p in curve]
        lo = [p[2] for p in curve]
        hi = [p[3] for p in curve]
        ux, uy = step_path(ts, hi)
        lx, ly = step_path(ts, lo)
        fig.add_trace(go.Scatter(x=ux + lx[::-1], y=uy + ly[::-1], fill="toself", fillcolor=fill,
                                 mode="lines", line=dict(width=0), hoverinfo="skip",
                                 showlegend=False, xaxis=mx, yaxis=my))
    # survival curves + censor marks
    for curve, cens, col, fill in groups:
        ts = [p[0] for p in curve]
        ss = [p[1] for p in curve]
        fig.add_trace(go.Scatter(x=ts, y=ss, mode="lines", line=dict(color=col, width=1.35, shape="hv"),
                                 hoverinfo="skip", showlegend=False, xaxis=mx, yaxis=my))
        fig.add_trace(go.Scatter(x=cens, y=[surv_at(curve, v) for v in cens], mode="markers",
                                 marker=dict(symbol="line-ns", size=6, color=col,
                                             line=dict(color=col, width=1.1)),
                                 hoverinfo="skip", showlegend=False, xaxis=mx, yaxis=my))
    # risk table
    for vals, yy, col in [(RISK_LOW[k], 1, LOW_COLOR), (RISK_HIGH[k], 0, HIGH_COLOR)]:
        fig.add_trace(go.Scatter(x=RISK_TIMES[k], y=[yy] * len(vals), mode="text",
                                 text=[str(v) for v in vals],
                                 textfont=dict(color=col, size=9.5, family=FONT),
                                 hoverinfo="skip", showlegend=False, xaxis=tx, yaxis=ty))

    xname = "xaxis" if m == 1 else f"xaxis{m}"
    yname = "yaxis" if m == 1 else f"yaxis{m}"
    layout_axes[xname] = dict(
        domain=[pxx(left), pxx(right)], range=xr, anchor=my, tickvals=ticks,
        ticks="outside", ticklen=3, tickwidth=1, tickcolor=AXIS_COLOR,
        showline=True, linecolor=AXIS_COLOR, linewidth=1,
        showgrid=True, gridcolor=GRID_MAJOR, gridwidth=1,
        minor=dict(tickvals=xminor, showgrid=True, gridcolor=GRID_MINOR, gridwidth=0.7, ticks=""),
        zeroline=False, tickfont=dict(size=9.5, color=TEXT_COLOR, family=FONT), fixedrange=True)
    layout_axes[yname] = dict(
        domain=[pxy(bot_px), pxy(top_px)], range=[-0.05, 1.05], anchor=mx,
        tickvals=[0, 0.2, 0.4, 0.6, 0.8, 1.0], tickformat=".1f",
        ticks="outside", ticklen=3, tickwidth=1, tickcolor=AXIS_COLOR,
        showline=True, linecolor=AXIS_COLOR, linewidth=1,
        showgrid=True, gridcolor=GRID_MAJOR, gridwidth=1,
        minor=dict(tickvals=[0.1, 0.3, 0.5, 0.7, 0.9], showgrid=True, gridcolor=GRID_MINOR,
                   gridwidth=0.7, ticks=""),
        zeroline=False, tickfont=dict(size=9.5, color=TEXT_COLOR, family=FONT), fixedrange=True)
    ttop = TABLE_TOP[r]
    layout_axes[f"xaxis{t}"] = dict(
        domain=[pxx(left), pxx(right)], range=xr, anchor=ty, tickvals=ticks, showticklabels=False,
        ticks="", showline=True, mirror=True, linecolor="#222222", linewidth=1.2,
        showgrid=True, gridcolor=GRID_MAJOR, gridwidth=1,
        minor=dict(tickvals=xminor, showgrid=True, gridcolor=GRID_MINOR, gridwidth=0.7, ticks=""),
        zeroline=False, fixedrange=True)
    layout_axes[f"yaxis{t}"] = dict(
        domain=[pxy(ttop + TABLE_H), pxy(ttop)], range=[-0.6, 1.6], anchor=tx, tickvals=[0, 1],
        showticklabels=False, ticks="", showline=True, mirror=True, linecolor="#222222", linewidth=1.2,
        showgrid=True, gridcolor=GRID_MAJOR, gridwidth=1, zeroline=False, fixedrange=True)

    # --- text decorations
    annotations.append(dict(x=pxx(left - 47), y=pxy(y1 - 10.5), xref="paper", yref="paper",
                            text=f"<b>{PANEL_LETTERS[k]}</b>", showarrow=False, xanchor="left",
                            yanchor="middle", font=dict(size=21, color="#000000", family=FONT)))
    annotations.append(dict(x=pxx(left + 80), y=pxy(y1 - 12.5), xref="paper", yref="paper",
                            text=CANCER_TYPES[k], showarrow=False, xanchor="center", yanchor="middle",
                            font=dict(size=10.5, color=TEXT_COLOR, family=FONT)))
    annotations.append(dict(x=pxx(left - 28), y=pxy((y1 + y0) / 2), xref="paper", yref="paper",
                            text=Y_TITLE, textangle=-90, showarrow=False, xanchor="center",
                            yanchor="middle", font=dict(size=10, color=TEXT_COLOR, family=FONT)))
    annotations.append(dict(x=pxx(left + 83), y=pxy(y0 + 29.7), xref="paper", yref="paper",
                            text=X_TITLE, showarrow=False, xanchor="center", yanchor="middle",
                            font=dict(size=10.5, color=TEXT_COLOR, family=FONT)))
    for yy, txt in [(0.205, ENDPOINTS[k]), (0.12, HR_TEXT[k]), (0.035, PVAL_TEXT[k])]:
        annotations.append(dict(x=0, y=yy, xref=mx, yref=my, text=txt, showarrow=False,
                                xanchor="left", yanchor="middle",
                                font=dict(size=7.4, color=TEXT_COLOR, family=FONT)))
    # legend
    annotations.append(dict(x=pxx(left + 124), y=pxy(y1 - 0.5), xref="paper", yref="paper",
                            text=LEGEND_TITLE, showarrow=False, xanchor="left", yanchor="middle",
                            font=dict(size=7.5, color=TEXT_COLOR, family=FONT)))
    for gi, (name, col, fill) in enumerate([(GROUP_NAMES[0], LOW_COLOR, LOW_FILL),
                                             (GROUP_NAMES[1], HIGH_COLOR, HIGH_FILL)]):
        cy = y1 + 11.6 + gi * 10.7
        kx0, kx1 = left + 124, left + 139
        shapes.append(dict(type="rect", xref="paper", yref="paper", x0=pxx(kx0), x1=pxx(kx1),
                           y0=pxy(cy + 4), y1=pxy(cy - 4), fillcolor=fill, line=dict(width=0)))
        shapes.append(dict(type="line", xref="paper", yref="paper", x0=pxx(kx0), x1=pxx(kx1),
                           y0=pxy(cy), y1=pxy(cy), line=dict(color=col, width=1.3)))
        shapes.append(dict(type="line", xref="paper", yref="paper", x0=pxx((kx0 + kx1) / 2),
                           x1=pxx((kx0 + kx1) / 2), y0=pxy(cy - 3), y1=pxy(cy + 3),
                           line=dict(color=col, width=1.1)))
        annotations.append(dict(x=pxx(left + 143), y=pxy(cy), xref="paper", yref="paper", text=name,
                                showarrow=False, xanchor="left", yanchor="middle",
                                font=dict(size=7.5, color=TEXT_COLOR, family=FONT)))
        # risk-table row labels
        annotations.append(dict(x=pxx(left - 4), y=1 - gi, xref="paper", yref=ty, text=name,
                                showarrow=False, xanchor="right", yanchor="middle",
                                font=dict(size=9, color=col, family=FONT)))

# caption
annotations.append(dict(x=pxx(21), y=pxy(741), xref="paper", yref="paper", text=CAPTION_TITLE,
                        showarrow=False, xanchor="left", yanchor="middle",
                        font=dict(size=17.5, color="#4A4A4A", family=CAP_FONT)))
annotations.append(dict(x=pxx(21), y=pxy(776), xref="paper", yref="paper", text=CAPTION_TEXT,
                        showarrow=False, xanchor="left", yanchor="middle", align="left",
                        font=dict(size=17.3, color="#5A5A5A", family=CAP_FONT)))

# page frame
shapes.append(dict(type="line", xref="paper", yref="paper", x0=pxx(4), x1=1, y0=pxy(6), y1=pxy(6),
                   line=dict(color="#D4D4D4", width=1)))
shapes.append(dict(type="line", xref="paper", yref="paper", x0=pxx(4), x1=pxx(4), y0=pxy(6), y1=0,
                   line=dict(color="#D4D4D4", width=1)))

fig.update_layout(width=FIG_W, height=FIG_H, margin=dict(l=0, r=0, t=0, b=0),
                  paper_bgcolor="white", plot_bgcolor="white", showlegend=False,
                  annotations=annotations, shapes=shapes, font=dict(family=FONT),
                  **layout_axes)

fig.write_html("out.html")
